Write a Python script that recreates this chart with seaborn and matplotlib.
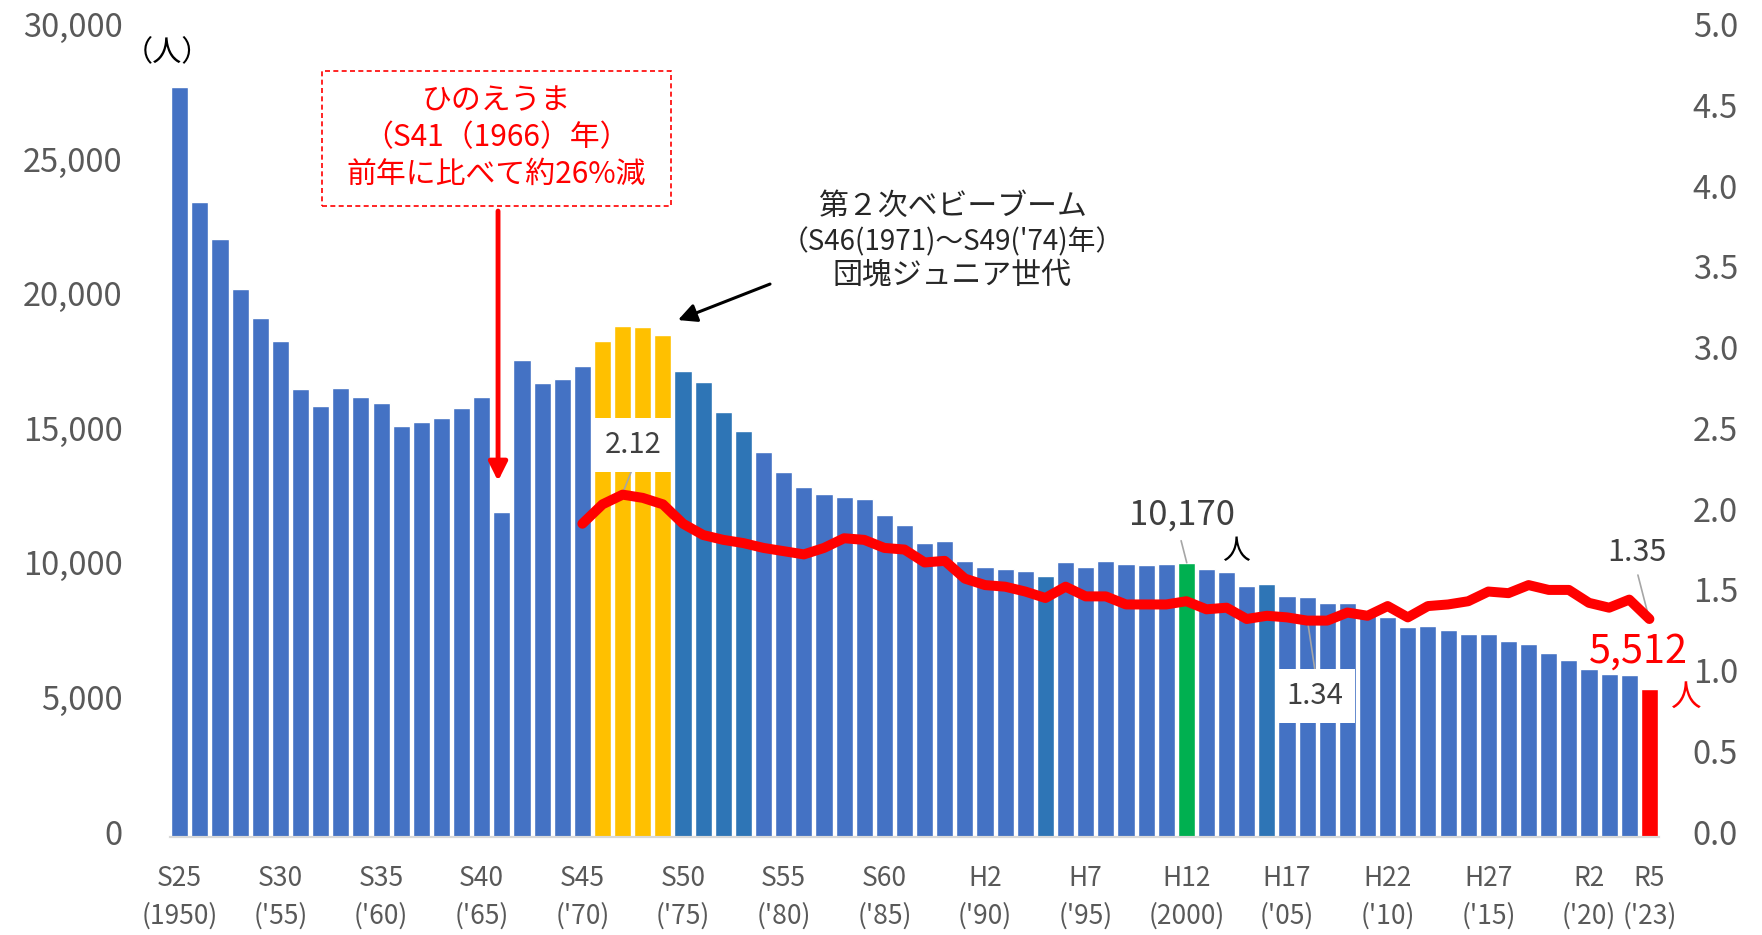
import numpy as np
import pandas as pd
import matplotlib
matplotlib.use("Agg")
import matplotlib.pyplot as plt
import matplotlib.transforms as mtransforms
from matplotlib.patches import Rectangle
import seaborn as sns

# births per year (persons), S25 (1950) .. R5 (2023)
years = list(range(1950, 2024))
births = [
    27870, 23600, 22200, 20360, 19270, 18430, 16630, 16010, 16690, 16360,
    16120, 15260, 15420, 15550, 15930, 16330, 12090, 17710, 16880, 17020,
    17500, 18430, 18980, 18950, 18650, 17300, 16900, 15790, 15080, 14320,
    13550, 13020, 12740, 12620, 12570, 11960, 11590, 10940, 10980, 10270,
    10030, 9970, 9880, 9700, 10200, 10030, 10240, 10130, 10090, 10140,
    10170, 9970, 9830, 9340, 9400, 8950, 8930, 8710, 8680, 8290,
    8170, 7800, 7850, 7700, 7540, 7550, 7270, 7160, 6820, 6580,
    6230, 6060, 6020, 5512,
]

# total fertility rate, 1970 .. 2023
tfr_years = list(range(1970, 2024))
tfr = [
    1.94, 2.06, 2.12, 2.10, 2.06, 1.94, 1.87, 1.84, 1.82, 1.79,
    1.77, 1.75, 1.79, 1.85, 1.84, 1.79, 1.78, 1.70, 1.71, 1.60,
    1.56, 1.55, 1.52, 1.48, 1.55, 1.49, 1.49, 1.44, 1.44, 1.44,
    1.46, 1.41, 1.42, 1.35, 1.37, 1.36, 1.34, 1.34, 1.39, 1.37,
    1.43, 1.36, 1.43, 1.44, 1.46, 1.52, 1.51, 1.56, 1.53, 1.53,
    1.45, 1.42, 1.47, 1.35,
]

boom_years = [1971, 1972, 1973, 1974]
dark_years = [1975, 1976, 1977, 1978, 1993, 2004]
green_years = [2000]
red_years = [2023]

label_years = [1950, 1955, 1960, 1965, 1970, 1975, 1980, 1985, 1990,
               1995, 2000, 2005, 2010, 2015, 2020, 2023]
label_texts = ["S25\n(1950)", "S30\n('55)", "S35\n('60)", "S40\n('65)",
               "S45\n('70)", "S50\n('75)", "S55\n('80)", "S60\n('85)",
               "H2\n('90)", "H7\n('95)", "H12\n(2000)", "H17\n('05)",
               "H22\n('10)", "H27\n('15)", "R2\n('20)", "R5\n('23)"]

BLUE = "#4472C4"
DARK = "#2E75B6"
YELLOW = "#FFC000"
GREEN = "#00B050"
RED = "#FF0000"
GRAY = "#595959"

palette = {}
for y in years:
    c = BLUE
    if y in boom_years:
        c = YELLOW
    elif y in dark_years:
        c = DARK
    elif y in green_years:
        c = GREEN
    elif y in red_years:
        c = RED
    palette[y] = c

df = pd.DataFrame({"year": years, "births": births})

sns.set_style("white")
plt.rcParams["font.family"] = ["Noto Sans CJK JP", "DejaVu Sans"]

fig = plt.figure(figsize=(17.62, 9.35), dpi=100)
ax = fig.add_axes([0.0963, 0.1048, 0.8455, 0.8636])

sns.barplot(data=df, x="year", y="births", hue="year", palette=palette,
            legend=False, saturation=1, width=0.85, ax=ax)

ax2 = ax.twinx()
pos = [years.index(y) for y in tfr_years]
sns.lineplot(x=pos, y=tfr, ax=ax2, color=RED, lw=7.2,
             solid_capstyle="round", solid_joinstyle="round")

ax.set_xlim(-0.5, len(years) - 0.5)
ax.set_ylim(0, 30000)
ax2.set_ylim(0, 5.0)

ax.set_yticks(np.arange(0, 30001, 5000))
ax.set_yticklabels([f"{v:,}" for v in range(0, 30001, 5000)])
ax2.set_yticks(np.arange(0, 5.01, 0.5))
ax2.set_yticklabels([f"{v:.1f}" for v in np.arange(0, 5.01, 0.5)])

ax.set_xticks([years.index(y) for y in label_years])
ax.set_xticklabels(label_texts, linespacing=1.5)
ax.set_xticks(np.arange(-0.5, len(years), 1), minor=True)
ax.tick_params(axis="x", which="major", length=0, pad=20, labelsize=19,
               labelcolor=GRAY)
ax.tick_params(axis="x", which="minor", length=10, width=1.5,
               color="#D9D9D9", direction="out")
ax.tick_params(axis="y", length=0, pad=34, labelsize=23.5, labelcolor=GRAY)
ax2.tick_params(axis="y", length=0, pad=24, labelsize=23.5, labelcolor=GRAY)
ax.set_xlabel("")
ax.set_ylabel("")
ax2.set_ylabel("")

# excel draws the value labels a little above their ticks
shift = mtransforms.ScaledTranslation(0, 0.05, fig.dpi_scale_trans)
for lab in ax.get_yticklabels() + ax2.get_yticklabels():
    lab.set_transform(lab.get_transform() + shift)

for a in (ax, ax2):
    for s in ("left", "right", "top"):
        a.spines[s].set_visible(False)
    a.spines["bottom"].set_color("#D9D9D9")
    a.spines["bottom"].set_linewidth(1.5)
    a.grid(False)

fig.text(0.0953, 0.9433, "（人）", ha="center", va="center",
         fontsize=21, color="black")

# hinoeuma note
ax.add_patch(Rectangle((7.06, 23440), 17.34, 5020, fill=False,
                       edgecolor=RED, lw=1.2, ls=(0, (3, 2)), clip_on=False))
ax.text(15.73, 27340, "ひのえうま", ha="center", va="center", color=RED, fontsize=21.5)
ax.text(15.73, 26000, "（S41（1966）年）", ha="center", va="center", color=RED, fontsize=21.5)
ax.text(15.73, 24630, "前年に比べて約26%減", ha="center", va="center", color=RED, fontsize=21.5)
ax.annotate("", xy=(15.81, 13225), xytext=(15.81, 23256),
            arrowprops=dict(arrowstyle="-|>", color=RED, lw=3.5,
                            mutation_scale=28, shrinkA=0, shrinkB=0))

# second baby boom note
ax.text(38.36, 23440, "第２次ベビーブーム", ha="center", va="center", fontsize=21.5)
ax.text(38.36, 22104, "（S46(1971)～S49('74)年）", ha="center", va="center", fontsize=20)
ax.text(38.36, 20878, "団塊ジュニア世代", ha="center", va="center", fontsize=21.5)
ax.annotate("", xy=(24.75, 19207), xytext=(29.32, 20544),
            arrowprops=dict(arrowstyle="-|>", color="black", lw=2.2,
                            mutation_scale=28, shrinkA=0, shrinkB=0))

# data labels
lead = dict(color="#A6A6A6", lw=1.2)
ax.text(22.52, 14560, "2.12", ha="center", va="center", fontsize=21, color="#404040",
        bbox=dict(boxstyle="square,pad=0.4", fc="white", ec="none"))
ax.plot([22.52, 22.0], [13746, 12780], **lead)

ax.text(49.79, 11962, "10,170", ha="center", va="center", fontsize=25, color="#404040")
ax.text(52.47, 10625, "人", ha="center", va="center", fontsize=20, color="black")
ax.plot([49.74, 50.02], [11008, 10190], **lead)

ax.text(56.40, 5238, "1.34", ha="center", va="center", fontsize=21, color="#404040",
        bbox=dict(boxstyle="square,pad=0.4", fc="white", ec="none"))
ax.plot([56.40, 56.03], [6130, 7987], **lead)

ax.text(72.39, 10588, "1.35", ha="center", va="center", fontsize=22, color="#404040")
ax.plot([72.43, 72.98], [9733, 8136], **lead)

ax.text(72.44, 6873, "5,512", ha="center", va="center", fontsize=28.5, color=RED)
ax.text(74.82, 5201, "人", ha="center", va="center", fontsize=22, color=RED)

fig.savefig("out.png", dpi=100)
